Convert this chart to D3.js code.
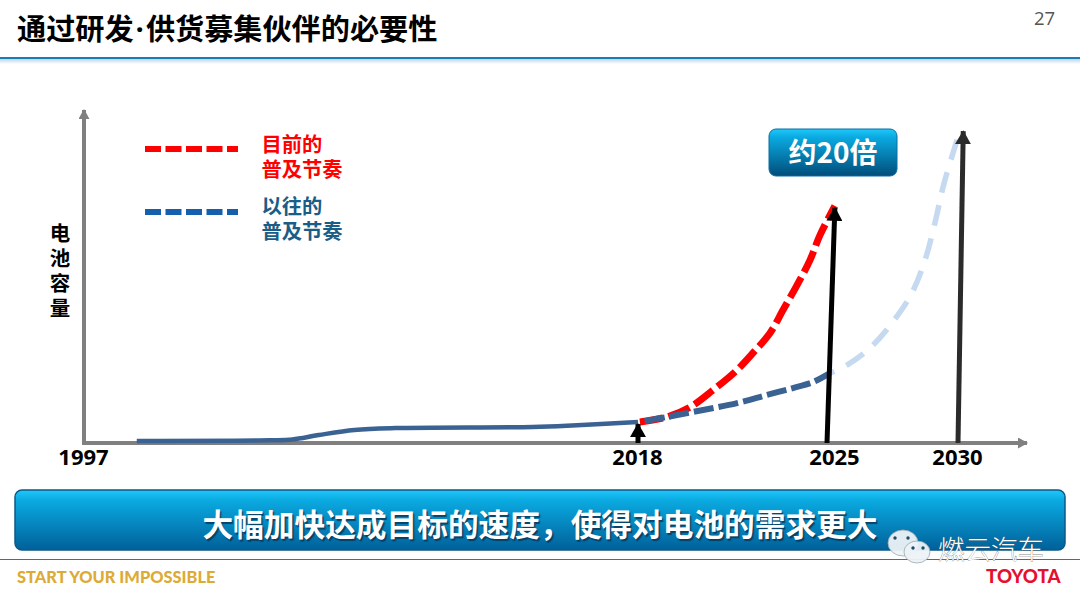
<!DOCTYPE html>
<html>
<head>
<meta charset="utf-8">
<script src="https://cdn.jsdelivr.net/npm/d3@7"></script>
<style>
  html, body { margin: 0; padding: 0; background: #fff; overflow: hidden; }
  text { font-family: "Noto Sans CJK SC", "Noto Sans", sans-serif; }
  .tick-label text { font-family: "Open Sans", sans-serif; font-weight: 700; font-size: 22px; fill: #000; }
</style>
</head>
<body>
<svg id="chart" width="1080" height="598"></svg>
<script>
// values, capacity is relative to 2018 = 1
const tickYears = [1997, 2018, 2025, 2030];

const pastYears = [1999, 2004.05, 2004.9, 2005.9, 2007.25, 2008.8, 2014, 2015.5, 2018];
const pastValues = [0.1, 0.13, 0.17, 0.38, 0.62, 0.71, 0.76, 0.83, 1];

const currentYears = [2018.07, 2019.07, 2019.93, 2020.78, 2021.59, 2022.26, 2022.89, 2023.37, 2023.89, 2024.37, 2024.74, 2025.3];
const currentValues = [1, 1.24, 1.71, 2.52, 3.38, 4.29, 5.24, 6.33, 7.52, 8.71, 9.9, 11.29];

const formerYears = [2018.07, 2019.07, 2020.04, 2021.67, 2022.78, 2023.89, 2024.48, 2025.11];
const formerValues = [1, 1.24, 1.48, 1.9, 2.29, 2.67, 2.9, 3.33];

const futureYears = [2025.11, 2025.76, 2026.64, 2027.51, 2028.24, 2028.74, 2029.12, 2029.43, 2029.81, 2030.08];
const futureValues = [3.33, 3.71, 4.52, 5.76, 7.14, 8.71, 10.48, 12.19, 13.81, 14.9];

const arrowFromYears = [2018, 2025, 2030];
const arrowToYears = [2018, 2025.3, 2030.2];
const arrowToValues = [0.9, 11.2, 14.85];

const legendLabels = [["目前的", "普及节奏"], ["以往的", "普及节奏"]];
const yLabel = "电池容量";

const svg = d3.select("#chart");
const defs = svg.append("defs");

const xScale = d3.scaleLinear().domain(tickYears).range([84, 638, 827, 958]);
const yScale = d3.scaleLinear().domain([0, 15.81]).range([443, 111]);

function gloss(id, bottom) {
  const g = defs.append("linearGradient").attr("id", id).attr("x1", 0).attr("x2", 0).attr("y1", 0).attr("y2", 1);
  g.append("stop").attr("offset", "0%").attr("stop-color", "#1fc8fb");
  g.append("stop").attr("offset", "18%").attr("stop-color", "#0aa9e0");
  g.append("stop").attr("offset", "100%").attr("stop-color", bottom);
}
gloss("bar-gloss", "#01609a");
gloss("box-gloss", "#014d7a");

const rule = defs.append("linearGradient").attr("id", "rule-fade").attr("x1", 0).attr("x2", 0).attr("y1", 0).attr("y2", 1);
rule.append("stop").attr("offset", "0%").attr("stop-color", "#bcd6ea");
rule.append("stop").attr("offset", "100%").attr("stop-color", "#ffffff");

function marker(id, color, w, h) {
  defs.append("marker").attr("id", id)
    .attr("markerUnits", "userSpaceOnUse")
    .attr("markerWidth", w).attr("markerHeight", h)
    .attr("viewBox", `0 0 ${w} ${h}`)
    .attr("refX", w - 1).attr("refY", h / 2)
    .attr("orient", "auto")
    .append("path").attr("d", `M0,0L${w},${h / 2}L0,${h}Z`).attr("fill", color);
}
marker("head-gray", "#808080", 10, 11);
marker("head-black", "#000", 14, 16);
marker("head-dark", "#2b2b2b", 14, 16);

// header
const title = svg.append("text").attr("x", 17).attr("y", 40)
  .attr("font-size", 29.15).attr("font-weight", 700).attr("fill", "#000");
title.append("tspan").text("通过研发");
title.append("tspan").attr("dx", 2).style("font-family", "'Open Sans', sans-serif").text("·");
title.append("tspan").attr("dx", 2).text("供货募集伙伴的必要性");
svg.append("text").attr("x", 1034).attr("y", 25)
  .style("font-family", "'Open Sans', sans-serif")
  .attr("font-size", 18.5).attr("fill", "#555").text("27");
svg.append("rect").attr("x", 0).attr("y", 59).attr("width", 1080).attr("height", 5).attr("fill", "url(#rule-fade)");
svg.append("rect").attr("x", 0).attr("y", 57).attr("width", 1080).attr("height", 2).attr("fill", "#1b7db8");

// axes
svg.append("line").attr("x1", 84).attr("x2", 84).attr("y1", 445).attr("y2", 110)
  .attr("stroke", "#808080").attr("stroke-width", 4).attr("marker-end", "url(#head-gray)");
svg.append("line").attr("x1", 82).attr("x2", 1027).attr("y1", 443).attr("y2", 443)
  .attr("stroke", "#808080").attr("stroke-width", 4).attr("marker-end", "url(#head-gray)");

const xAxis = d3.axisBottom(xScale).tickValues(tickYears).tickSize(0).tickPadding(6).tickFormat(d3.format("d"));
const axisGroup = svg.append("g").attr("class", "tick-label")
  .attr("transform", "translate(0,443)")
  .call(xAxis);
axisGroup.select(".domain").remove();
// the 2025 label sits a little right of its arrow
axisGroup.selectAll(".tick text").attr("dx", d => d === 2025 ? 7 : -1);

svg.append("text").attr("x", 60).attr("y", 223)
  .attr("text-anchor", "start")
  .style("writing-mode", "vertical-rl")
  .style("letter-spacing", "4.5px")
  .attr("font-size", 20.5).attr("font-weight", 700).attr("fill", "#000").text(yLabel);

// curves
const line = d3.line().x(d => xScale(d[0])).y(d => yScale(d[1])).curve(d3.curveCatmullRom.alpha(0.5));
const series = (xs, vs) => xs.map((x, i) => [x, vs[i]]);

svg.append("path").datum(series(futureYears, futureValues)).attr("d", line)
  .attr("fill", "none").attr("stroke", "#c5d9f0").attr("stroke-width", 5.5)
  .attr("stroke-dasharray", "21 13").attr("stroke-dashoffset", -18);
svg.append("path").datum(series(pastYears, pastValues)).attr("d", line)
  .attr("fill", "none").attr("stroke", "#3a6293").attr("stroke-width", 4.5);
svg.append("path").datum(series(currentYears, currentValues)).attr("d", line)
  .attr("fill", "none").attr("stroke", "#ff0000").attr("stroke-width", 7)
  .attr("stroke-dasharray", "23 6");
svg.append("path").datum(series(formerYears, formerValues)).attr("d", line)
  .attr("fill", "none").attr("stroke", "#3a6293").attr("stroke-width", 6)
  .attr("stroke-dasharray", "20 5").attr("stroke-dashoffset", -5);

// year arrows
arrowFromYears.forEach((yr, i) => {
  svg.append("line")
    .attr("x1", xScale(yr)).attr("y1", yScale(0))
    .attr("x2", xScale(arrowToYears[i])).attr("y2", yScale(arrowToValues[i]))
    .attr("stroke", i === 2 ? "#2b2b2b" : "#000").attr("stroke-width", 5)
    .attr("marker-end", i === 2 ? "url(#head-dark)" : "url(#head-black)");
});

// legend
[{ y: 149, color: "#ff0000", text: "#ff0000", first: 152 }, { y: 212, color: "#1460ae", text: "#1a5d86", first: 214 }].forEach((d, i) => {
  svg.append("line").attr("x1", 145).attr("x2", 238).attr("y1", d.y).attr("y2", d.y)
    .attr("stroke", d.color).attr("stroke-width", 6).attr("stroke-dasharray", "16 4.5");
  const label = svg.append("text").attr("y", d.first)
    .attr("font-size", 20.3).attr("font-weight", 700).attr("fill", d.text);
  legendLabels[i].forEach((t, j) => {
    label.append("tspan").attr("x", 261.5).attr("dy", j === 0 ? 0 : 24.5).text(t);
  });
});

// callout
svg.append("rect").attr("x", 769).attr("y", 129).attr("width", 128).attr("height", 47).attr("rx", 7)
  .attr("fill", "url(#box-gloss)").attr("stroke", "#0a6fa3").attr("stroke-width", 1);
svg.append("text").attr("x", 833).attr("y", 163).attr("text-anchor", "middle")
  .attr("font-size", 28).attr("font-weight", 700).attr("fill", "#fff").text("约20倍");

// bottom banner
svg.append("rect").attr("x", 15).attr("y", 490).attr("width", 1050).attr("height", 60).attr("rx", 7)
  .attr("fill", "url(#bar-gloss)").attr("stroke", "#0b5a88").attr("stroke-width", 1.5);
const bannerText = "大幅加快达成目标的速度，使得对电池的需求更大";
svg.append("text").attr("x", 540).attr("y", 536).attr("text-anchor", "middle")
  .attr("font-size", 30.7).attr("font-weight", 700).attr("fill", "#fff")
  .style("text-shadow", "1.5px 1.5px 1px rgba(10,50,80,0.8)").text(bannerText);

// footer
svg.append("line").attr("x1", 0).attr("x2", 1080).attr("y1", 559.5).attr("y2", 559.5).attr("stroke", "#666").attr("stroke-width", 1);
svg.append("text").attr("x", 17).attr("y", 583)
  .style("font-family", "Lato, sans-serif").attr("font-size", 16.4).attr("font-weight", 900)
  .attr("fill", "#dcab36").text("START YOUR IMPOSSIBLE");
svg.append("text").attr("x", 986).attr("y", 583)
  .style("font-family", "Lato, sans-serif").attr("font-size", 18.7).attr("font-weight", 900)
  .attr("fill", "#e60f2d").text("TOYOTA");

// watermark
const mark = svg.append("g");
[[903, 543, 15, 13], [917, 552, 13, 11]].forEach(b => {
  mark.append("ellipse").attr("cx", b[0]).attr("cy", b[1]).attr("rx", b[2]).attr("ry", b[3])
    .attr("fill", "#ecf2f6").attr("stroke", "#9aa8b0").attr("stroke-width", 0.8).attr("fill-opacity", 0.95);
});
[[895, 538], [908, 538], [913, 548], [923, 548]].forEach(p => {
  mark.append("circle").attr("cx", p[0]).attr("cy", p[1]).attr("r", 1.7).attr("fill", "#1d4a66");
});
svg.append("text").attr("x", 938).attr("y", 559)
  .attr("font-size", 26.5).attr("font-weight", 300).attr("fill", "#fff")
  .attr("stroke", "#555").attr("stroke-width", 0.5).attr("paint-order", "stroke")
  .text("燃云汽车");
</script>
</body>
</html>
